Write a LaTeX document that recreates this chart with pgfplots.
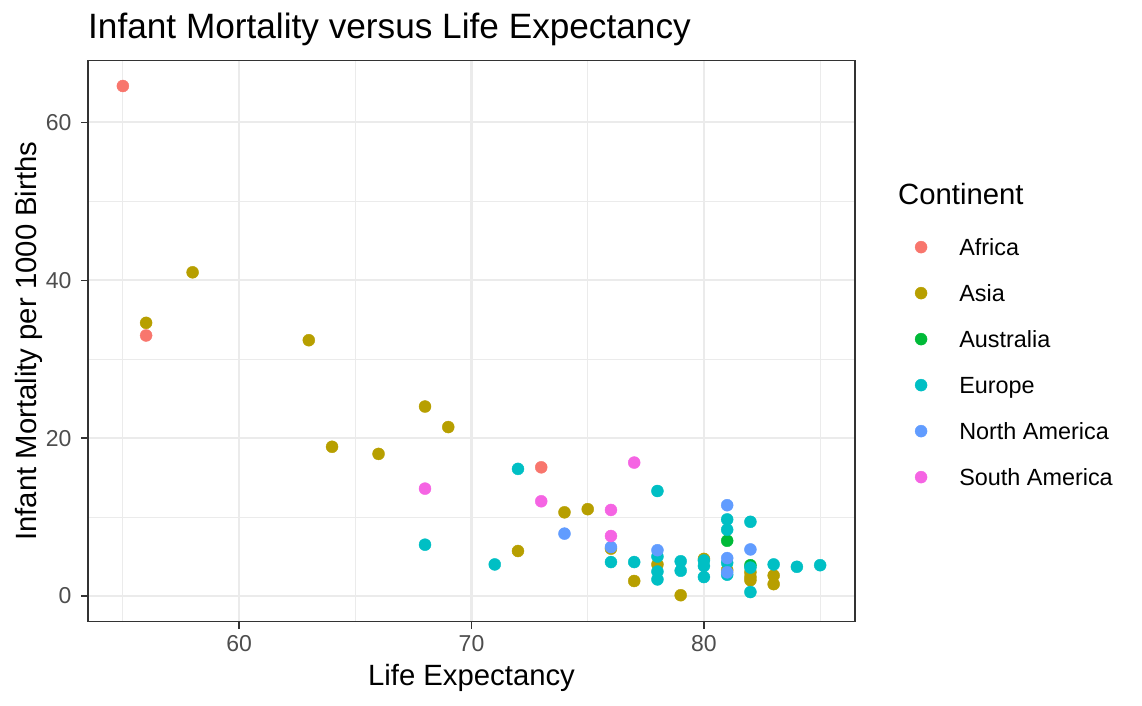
\documentclass[border=0pt]{standalone}
\usepackage{pgfplots}
\pgfplotsset{compat=1.18}
\usepackage{fontspec}
\setmainfont{Liberation Sans}
\definecolor{cAf}{HTML}{F8766D}
\definecolor{cAs}{HTML}{B79F00}
\definecolor{cAu}{HTML}{00BA38}
\definecolor{cEu}{HTML}{00BFC4}
\definecolor{cNA}{HTML}{619CFF}
\definecolor{cSA}{HTML}{F564E3}
\definecolor{gridc}{HTML}{EBEBEB}
\definecolor{frame}{HTML}{333333}
\definecolor{tickc}{HTML}{4D4D4D}
\begin{document}
\begin{tikzpicture}
\path[use as bounding box] (0,0) rectangle (1142pt,705pt);
\begin{axis}[
  at={(88pt,83.5pt)}, anchor=south west,
  scale only axis, width=767pt, height=561pt,
  xmin=53.5, xmax=86.5, ymin=-3.23, ymax=67.83,
  xtick={60,70,80}, ytick={0,20,40,60},
  minor xtick={55,65,75,85}, minor ytick={10,30,50},
  grid=both,
  major grid style={line width=2.2pt, color=gridc},
  minor grid style={line width=1.1pt, color=gridc},
  axis line style={line width=1.3pt, color=frame},
  tick align=outside, major tick length=7pt, minor tick length=0pt,
  tick pos=left,
  major tick style={line width=1.3pt, color=frame},
  /pgf/number format/assume math mode=true,
  ticklabel style={font=\fontsize{23}{23}\selectfont, text=tickc},
  xticklabel style={anchor=base, yshift=-22.5pt},
  yticklabel style={anchor=east, inner sep=0pt, xshift=-9.3pt},
  legend style={at={(1.0778,0.6831)}, anchor=north west, draw=none, fill=none,
    inner sep=0pt, row sep=23.7pt, column sep=32pt,
    font=\fontsize{23.4}{23.4}\selectfont,
    nodes={inner sep=0pt, text height=17pt, text depth=5.3pt}},
  legend cell align=left,
  legend image code/.code={\fill[#1] (0pt,2.5pt) circle (6pt);},
  every axis plot/.append style={only marks, mark=*, mark size=6pt, mark options={draw=none}},
]
\addplot[color=cAf] coordinates {(55,64.6) (56,33.0) (73,16.3)};
\addlegendentry{Africa}
\addplot[color=cAs] coordinates {(56,34.6) (58,41.0) (63,32.4) (64,18.9) (66,18.0) (68,24.0) (69,21.4) (72,5.7) (74,10.6) (75,11.0) (76,6.0) (77,1.9) (78,4.0) (79,0.1) (80,4.7) (81,3.3) (82,3.0) (82,2.4) (82,2.0) (83,2.6) (83,1.5)};
\addlegendentry{Asia}
\addplot[color=cAu] coordinates {(81,7.0) (82,3.9)};
\addlegendentry{Australia}
\addplot[color=cEu] coordinates {(68,6.5) (71,4.0) (72,16.1) (76,4.3) (77,4.3) (78,13.3) (78,5.0) (78,3.1) (78,2.1) (79,4.4) (79,3.2) (80,4.5) (80,3.8) (80,2.4) (81,9.7) (81,8.4) (81,4.2) (81,2.7) (82,9.4) (82,3.6) (82,0.5) (83,4.0) (84,3.7) (85,3.9)};
\addlegendentry{Europe}
\addplot[color=cNA] coordinates {(74,7.9) (76,6.2) (78,5.8) (81,11.5) (81,4.8) (81,3.0) (82,5.9)};
\addlegendentry{North America}
\addplot[color=cSA] coordinates {(68,13.6) (73,12.0) (76,10.9) (76,7.6) (77,16.9)};
\addlegendentry{South America}
\end{axis}
\node[anchor=base west, inner sep=0pt, font=\fontsize{35.2}{40}\selectfont] at (88pt,666.7pt) {Infant Mortality versus Life Expectancy};
\node[anchor=base, inner sep=0pt, font=\fontsize{29.3}{33}\selectfont] at (471.5pt,20pt) {Life Expectancy};
\node[anchor=base, rotate=90, inner sep=0pt, font=\fontsize{29.3}{33}\selectfont] at (36.5pt,363.9pt) {Infant Mortality per 1000 Births};
\node[anchor=base west, inner sep=0pt, font=\fontsize{29.3}{33}\selectfont] at (898pt,500pt) {Continent};
\end{tikzpicture}
\end{document}
